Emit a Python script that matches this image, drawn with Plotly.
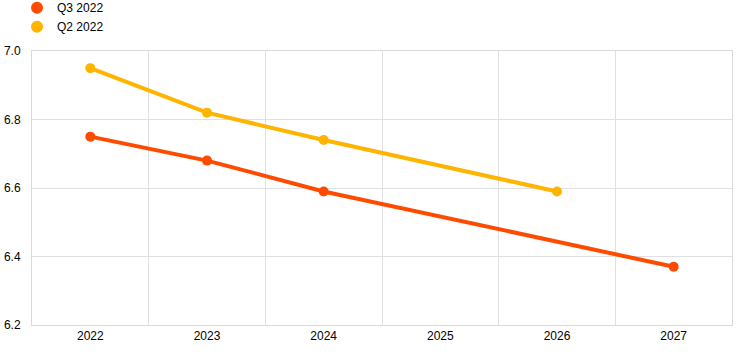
import plotly.graph_objects as go

years = [2022, 2023, 2024, 2025, 2026, 2027]
q3_x = [2022, 2023, 2024, 2027]
q3_y = [6.75, 6.68, 6.59, 6.37]
q2_x = [2022, 2023, 2024, 2026]
q2_y = [6.95, 6.82, 6.74, 6.59]
y_ticks = [6.2, 6.4, 6.6, 6.8, 7.0]

c_q3 = "#FF4B00"
c_q2 = "#FFB400"

fig = go.Figure()
for name, xs, ys, c in [("Q3 2022", q3_x, q3_y, c_q3), ("Q2 2022", q2_x, q2_y, c_q2)]:
    fig.add_trace(go.Scatter(x=xs, y=ys, mode="lines+markers", name=name,
                             line=dict(color=c, width=4), marker=dict(color=c, size=10),
                             showlegend=False))
for name, c in [("Q3 2022", c_q3), ("Q2 2022", c_q2)]:
    fig.add_trace(go.Scatter(x=[None], y=[None], mode="markers", name=name,
                             marker=dict(color=c, size=12)))

fig.update_layout(
    width=744, height=353,
    margin=dict(l=32, r=12, t=51, b=28, autoexpand=False),
    paper_bgcolor="white", plot_bgcolor="white",
    font=dict(family="Liberation Sans, Arial", size=12, color="#000"),
    legend=dict(x=-0.0214, xanchor="left", y=1.211, yanchor="top",
                font=dict(size=12), tracegroupgap=0, itemwidth=30, bgcolor="rgba(0,0,0,0)"),
    xaxis=dict(range=[2021.5, 2027.5], tickvals=years, ticktext=[str(y) for y in years],
               showgrid=False, zeroline=False, showline=True, linecolor="#d9d9d9", mirror=True,
               ticks="", minor=dict(tickvals=[y + 0.5 for y in years[:-1]], showgrid=True, gridcolor="#e0e0e0", gridwidth=1)),
    yaxis=dict(range=[6.2, 7.0], tickvals=y_ticks, tickformat=".1f", showgrid=True, gridcolor="#e0e0e0",
               zeroline=False, showline=True, linecolor="#d9d9d9", mirror=True, ticks="", ticklabelstandoff=8),
)
fig.write_html("out.html")
